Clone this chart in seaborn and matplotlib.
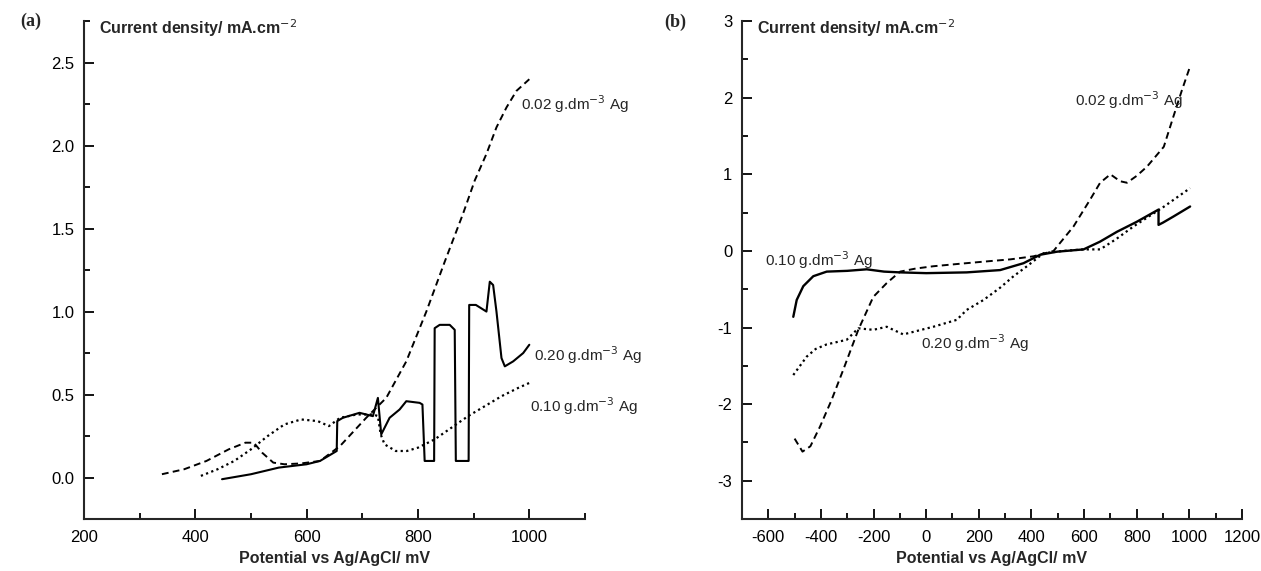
import numpy as np
import pandas as pd
import matplotlib
matplotlib.use("Agg")
import matplotlib.pyplot as plt
import seaborn as sns
from matplotlib.ticker import MultipleLocator, FormatStrFormatter

sns.set_style("ticks")
plt.rcParams['font.family'] = ['Liberation Sans', 'DejaVu Sans']
plt.rcParams['axes.unicode_minus'] = False

# panel (a) data, mV vs mA/cm2
a_x_002 = [340, 380, 420, 460, 490, 505, 520, 540, 560, 590, 624, 660, 707, 743,
           779, 815, 848, 881, 902, 923, 941, 959, 977, 1000]
a_y_002 = [0.02, 0.05, 0.10, 0.17, 0.21, 0.21, 0.15, 0.09, 0.08, 0.085, 0.10, 0.19,
           0.36, 0.48, 0.70, 1.00, 1.30, 1.59, 1.79, 1.95, 2.11, 2.23, 2.33, 2.40]

a_x_010 = [410, 440, 470, 500, 530, 560, 590, 620, 640, 660, 690, 720, 728, 733,
           740, 760, 780, 800, 830, 860, 890, 920, 950, 980, 1000]
a_y_010 = [0.01, 0.05, 0.10, 0.17, 0.25, 0.32, 0.35, 0.34, 0.31, 0.36, 0.38, 0.38,
           0.37, 0.26, 0.20, 0.16, 0.16, 0.18, 0.23, 0.30, 0.37, 0.43, 0.49, 0.54, 0.57]

a_x_020 = [448, 500, 550, 600, 624, 654, 655, 665, 695, 719, 728, 734, 740, 749,
           767, 779, 803, 808, 812, 821, 829, 830, 839, 857, 866, 868, 890, 891,
           892, 904, 923, 929, 935, 941, 950, 956, 971, 989, 1000]
a_y_020 = [-0.01, 0.02, 0.06, 0.08, 0.10, 0.16, 0.34, 0.36, 0.39, 0.37, 0.48, 0.26,
           0.30, 0.36, 0.41, 0.46, 0.45, 0.44, 0.10, 0.10, 0.10, 0.90, 0.92, 0.92,
           0.89, 0.10, 0.10, 0.10, 1.04, 1.04, 1.00, 1.18, 1.16, 1.00, 0.72, 0.67,
           0.70, 0.75, 0.80]

# panel (b) data
b_x_002 = [-500, -470, -440, -403, -360, -315, -258, -201, -150, -99, -40, 27, 120,
           218, 320, 408, 484, 560, 623, 661, 700, 737, 763, 800, 839, 903, 940, 972, 1003]
b_y_002 = [-2.45, -2.62, -2.55, -2.29, -1.95, -1.55, -1.03, -0.60, -0.42, -0.27, -0.23,
           -0.20, -0.17, -0.14, -0.11, -0.07, 0.00, 0.32, 0.67, 0.89, 1.00, 0.91, 0.89,
           0.98, 1.10, 1.36, 1.76, 2.10, 2.41]

b_x_010 = [-505, -492, -467, -429, -378, -300, -226, -160, -99, 0, 154, 281, 370, 433,
           497, 598, 660, 725, 800, 883, 883, 900, 940, 1003]
b_y_010 = [-0.86, -0.64, -0.46, -0.33, -0.27, -0.26, -0.24, -0.27, -0.28, -0.29, -0.28,
           -0.25, -0.16, -0.05, -0.01, 0.02, 0.12, 0.25, 0.38, 0.54, 0.34, 0.37, 0.45, 0.58]

b_x_020 = [-505, -454, -420, -378, -302, -258, -201, -150, -87, 27, 116, 154, 218, 281,
           332, 383, 446, 520, 598, 661, 720, 788, 900, 1003]
b_y_020 = [-1.62, -1.38, -1.28, -1.22, -1.16, -1.01, -1.03, -0.99, -1.09, -0.99, -0.90,
           -0.77, -0.64, -0.48, -0.33, -0.20, -0.03, 0.00, 0.02, 0.02, 0.15, 0.32, 0.57, 0.82]

label_002 = "0.02 g.dm$^{-3}$ Ag"
label_010 = "0.10 g.dm$^{-3}$ Ag"
label_020 = "0.20 g.dm$^{-3}$ Ag"

fig = plt.figure(figsize=(12.61, 5.71), dpi=100)
ax_a = fig.add_axes([0.0666, 0.091, 0.3973, 0.872])
ax_b = fig.add_axes([0.5884, 0.091, 0.3965, 0.872])

dash = (0, (3.5, 2.2))
dots = (0, (1, 1.5))


def curve(ax, x, y, ls, lw=1.4):
    df = pd.DataFrame({"x": x, "y": y})
    sns.lineplot(data=df, x="x", y="y", ax=ax, sort=False, estimator=None,
                 color="black", linestyle=ls, linewidth=lw)


curve(ax_a, a_x_002, a_y_002, dash)
curve(ax_a, a_x_010, a_y_010, dots, 1.6)
curve(ax_a, a_x_020, a_y_020, "-", 1.5)

curve(ax_b, b_x_002, b_y_002, dash)
curve(ax_b, b_x_010, b_y_010, "-", 1.7)
curve(ax_b, b_x_020, b_y_020, dots, 1.6)

for ax in (ax_a, ax_b):
    sns.despine(ax=ax)
    ax.spines['left'].set_linewidth(1.5)
    ax.spines['bottom'].set_linewidth(1.5)
    ax.tick_params(which='both', direction='in', width=1.3, labelsize=12, colors='black')
    ax.tick_params(which='major', length=7)
    ax.tick_params(which='minor', length=4)
    ax.tick_params(axis='x', pad=8)
    ax.tick_params(axis='y', pad=7)
    ax.set_xlabel("Potential vs Ag/AgCl/ mV", fontsize=11.5, fontweight='bold', labelpad=4)
    ax.set_ylabel("")
    ax.text(0.03, 0.985, "Current density/ mA.cm$^{-2}$", transform=ax.transAxes,
            fontsize=11.5, fontweight='bold', va='center', ha='left')

ax_a.set_xlim(200, 1100)
ax_a.set_ylim(-0.25, 2.75)
ax_a.xaxis.set_major_locator(MultipleLocator(200))
ax_a.xaxis.set_minor_locator(MultipleLocator(100))
ax_a.yaxis.set_major_locator(MultipleLocator(0.5))
ax_a.yaxis.set_minor_locator(MultipleLocator(0.25))
ax_a.yaxis.set_major_formatter(FormatStrFormatter('%.1f'))
ax_a.set_xticks([200, 400, 600, 800, 1000])

ax_b.set_xlim(-700, 1200)
ax_b.set_ylim(-3.5, 3)
ax_b.xaxis.set_major_locator(MultipleLocator(200))
ax_b.xaxis.set_minor_locator(MultipleLocator(100))
ax_b.yaxis.set_major_locator(MultipleLocator(1))
ax_b.yaxis.set_minor_locator(MultipleLocator(0.5))
ax_b.set_xticks(np.arange(-600, 1201, 200))

ax_a.text(985, 2.25, label_002, fontsize=11, va='center')
ax_a.text(1008, 0.74, label_020, fontsize=11, va='center')
ax_a.text(1001, 0.43, label_010, fontsize=11, va='center')

ax_b.text(566, 1.97, label_002, fontsize=11, va='center')
ax_b.text(-613, -0.12, label_010, fontsize=11, va='center')
ax_b.text(-21, -1.2, label_020, fontsize=11, va='center')

fig.text(0.016, 0.963, "(a)", fontsize=13, fontweight='bold',
         family=['Liberation Serif', 'DejaVu Serif'], va='center')
fig.text(0.527, 0.960, "(b)", fontsize=13, fontweight='bold',
         family=['Liberation Serif', 'DejaVu Serif'], va='center')

fig.savefig("out.png", dpi=100)
